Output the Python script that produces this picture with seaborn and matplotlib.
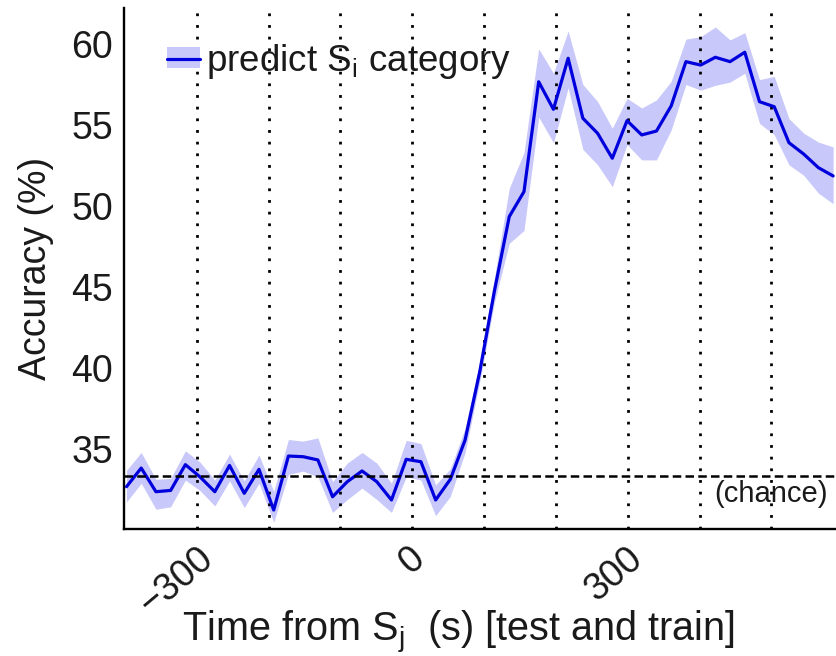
import matplotlib
matplotlib.use("Agg")
import matplotlib.pyplot as plt
import matplotlib.transforms as mtransforms
from matplotlib.patches import Patch
from matplotlib.lines import Line2D
from matplotlib.legend_handler import HandlerTuple
import pandas as pd
import seaborn as sns

# ---- data ----
time_s = [-398, -377.5, -357, -336.5, -316, -295.5, -275, -254.5, -234, -213.5,
          -193, -172.5, -152, -131.5, -111, -90.5, -70, -49.5, -29, -8.5,
          12, 32.5, 53, 73.5, 94, 114.5, 135, 155.5, 176, 196.5,
          217, 237.5, 258, 278.5, 299, 319.5, 340, 360.5, 381, 401.5,
          422, 442.5, 463, 483.5, 504, 524.5, 545, 565.5, 586]
accuracy = [32.69, 33.84, 32.38, 32.46, 34.05, 33.29, 32.38, 34.00, 32.28, 33.76,
            31.25, 34.58, 34.54, 34.34, 32.07, 33.00, 33.66, 33.00, 31.87, 34.38,
            34.23, 31.87, 33.15, 35.57, 39.80, 44.80, 49.35, 50.89, 57.67, 55.97,
            59.12, 55.42, 54.49, 52.95, 55.27, 54.39, 54.63, 56.18, 58.91, 58.70,
            59.18, 58.91, 59.49, 56.44, 56.13, 53.91, 53.21, 52.37, 51.86]
acc_lower = [31.75, 32.90, 31.30, 31.45, 33.10, 32.45, 31.50, 33.05, 31.40, 32.90,
             30.50, 33.45, 33.65, 33.30, 31.10, 31.90, 32.60, 31.90, 31.10, 33.30,
             33.10, 30.90, 32.10, 34.80, 39.20, 44.10, 47.70, 48.50, 55.50, 53.90,
             57.30, 53.50, 52.55, 51.20, 53.80, 52.85, 52.85, 54.70, 57.50, 57.15,
             57.45, 57.65, 58.20, 55.10, 54.40, 52.55, 51.90, 50.80, 50.15]
acc_upper = [33.70, 34.80, 33.15, 33.20, 34.90, 34.20, 33.10, 34.70, 33.05, 34.65,
             32.40, 35.60, 35.50, 35.70, 33.00, 34.15, 34.80, 34.15, 32.90, 35.55,
             35.35, 32.80, 33.80, 36.30, 40.40, 45.60, 51.10, 53.30, 59.70, 58.20,
             60.80, 57.50, 56.45, 54.80, 56.65, 56.05, 56.55, 57.70, 60.30, 60.45,
             61.05, 60.25, 60.70, 57.80, 58.00, 55.40, 54.50, 53.95, 53.65]
chance_level = 100.0 / 3.0
marker_times = [-300, -200, -100, 0, 100, 200, 300, 400, 500]
xtick_values = [-300, 0, 300]
xtick_labels = ["\u2212300", "0", "300"]
ytick_values = [35, 40, 45, 50, 55, 60]
series_label = "predict S$_{i}$ category"

# ---- style ----
sns.set_style("white")
plt.rcParams["font.family"] = ["Liberation Sans", "DejaVu Sans"]
plt.rcParams["mathtext.default"] = "regular"
plt.rcParams["mathtext.fontset"] = "custom"
plt.rcParams["mathtext.rm"] = "Liberation Sans"
plt.rcParams["mathtext.it"] = "Liberation Sans"
plt.rcParams["text.color"] = "#1a1a1a"

line_color = "#0000dd"
band_color = "#c8c8fa"
text_color = "#1a1a1a"

df = pd.DataFrame({"time": time_s, "acc": accuracy,
                   "lo": acc_lower, "hi": acc_upper})

fig = plt.figure(figsize=(8.36, 6.56), dpi=100)
ax = fig.add_axes([0.1483, 0.1931, 0.8517, 0.7947])

ax.fill_between(df["time"], df["lo"], df["hi"], color=band_color,
                linewidth=0, zorder=1)
for t in marker_times:
    ax.axvline(t, color="black", lw=2.0, linestyle=(0, (1, 3.2)), zorder=2)
sns.lineplot(data=df, x="time", y="acc", ax=ax, color=line_color, lw=2.3,
             errorbar=None, zorder=3, legend=False)
ax.axhline(chance_level, color="black", lw=1.8, linestyle=(0, (3.4, 1.7)),
           zorder=4)

ax.set_xlim(-401.5, 590)
ax.set_ylim(30.06, 62.22)

for side in ["top", "right"]:
    ax.spines[side].set_visible(False)
for side in ["left", "bottom"]:
    ax.spines[side].set_color("black")
    ax.spines[side].set_linewidth(1.7)

ax.set_yticks(ytick_values)
ax.set_yticklabels([str(v) for v in ytick_values])
ax.set_xticks(xtick_values)
ax.set_xticklabels(xtick_labels, rotation=40, ha="center", va="top")
ax.tick_params(axis="both", direction="in", length=5, width=1.7,
               labelsize=27, colors="black", labelcolor=text_color, pad=8)
ax.tick_params(axis="x", length=0)

ax.set_ylabel("Accuracy (%)", fontsize=27, labelpad=12, color=text_color)
ax.set_xlabel("Time from S$_{j}$  (s) [test and train]", fontsize=28.5,
              color=text_color)
ax.xaxis.set_label_coords(0.47, -0.152)

ax.text(0.989, 0.0677, "(chance)", transform=ax.transAxes, ha="right",
        va="center", fontsize=21, color=text_color, zorder=5)

handle = (Patch(facecolor=band_color, edgecolor="none"),
          Line2D([], [], color=line_color, lw=2.3))
leg = ax.legend([handle], [series_label],
                handler_map={tuple: HandlerTuple(ndivide=1, pad=0)},
                loc="upper left", bbox_to_anchor=(0.06, 0.935), frameon=False,
                fontsize=26.5, handlelength=0.9, handleheight=0.5,
                handletextpad=0.18, borderpad=0, borderaxespad=0)
for txt in leg.get_texts():
    txt.set_color(text_color)

for lab in ax.get_xticklabels():
    n = len(lab.get_text())
    off = mtransforms.ScaledTranslation(-7 * (n - 1) / 100.0, 0, fig.dpi_scale_trans)
    lab.set_transform(lab.get_transform() + off)

fig.savefig("out.png", dpi=100)
